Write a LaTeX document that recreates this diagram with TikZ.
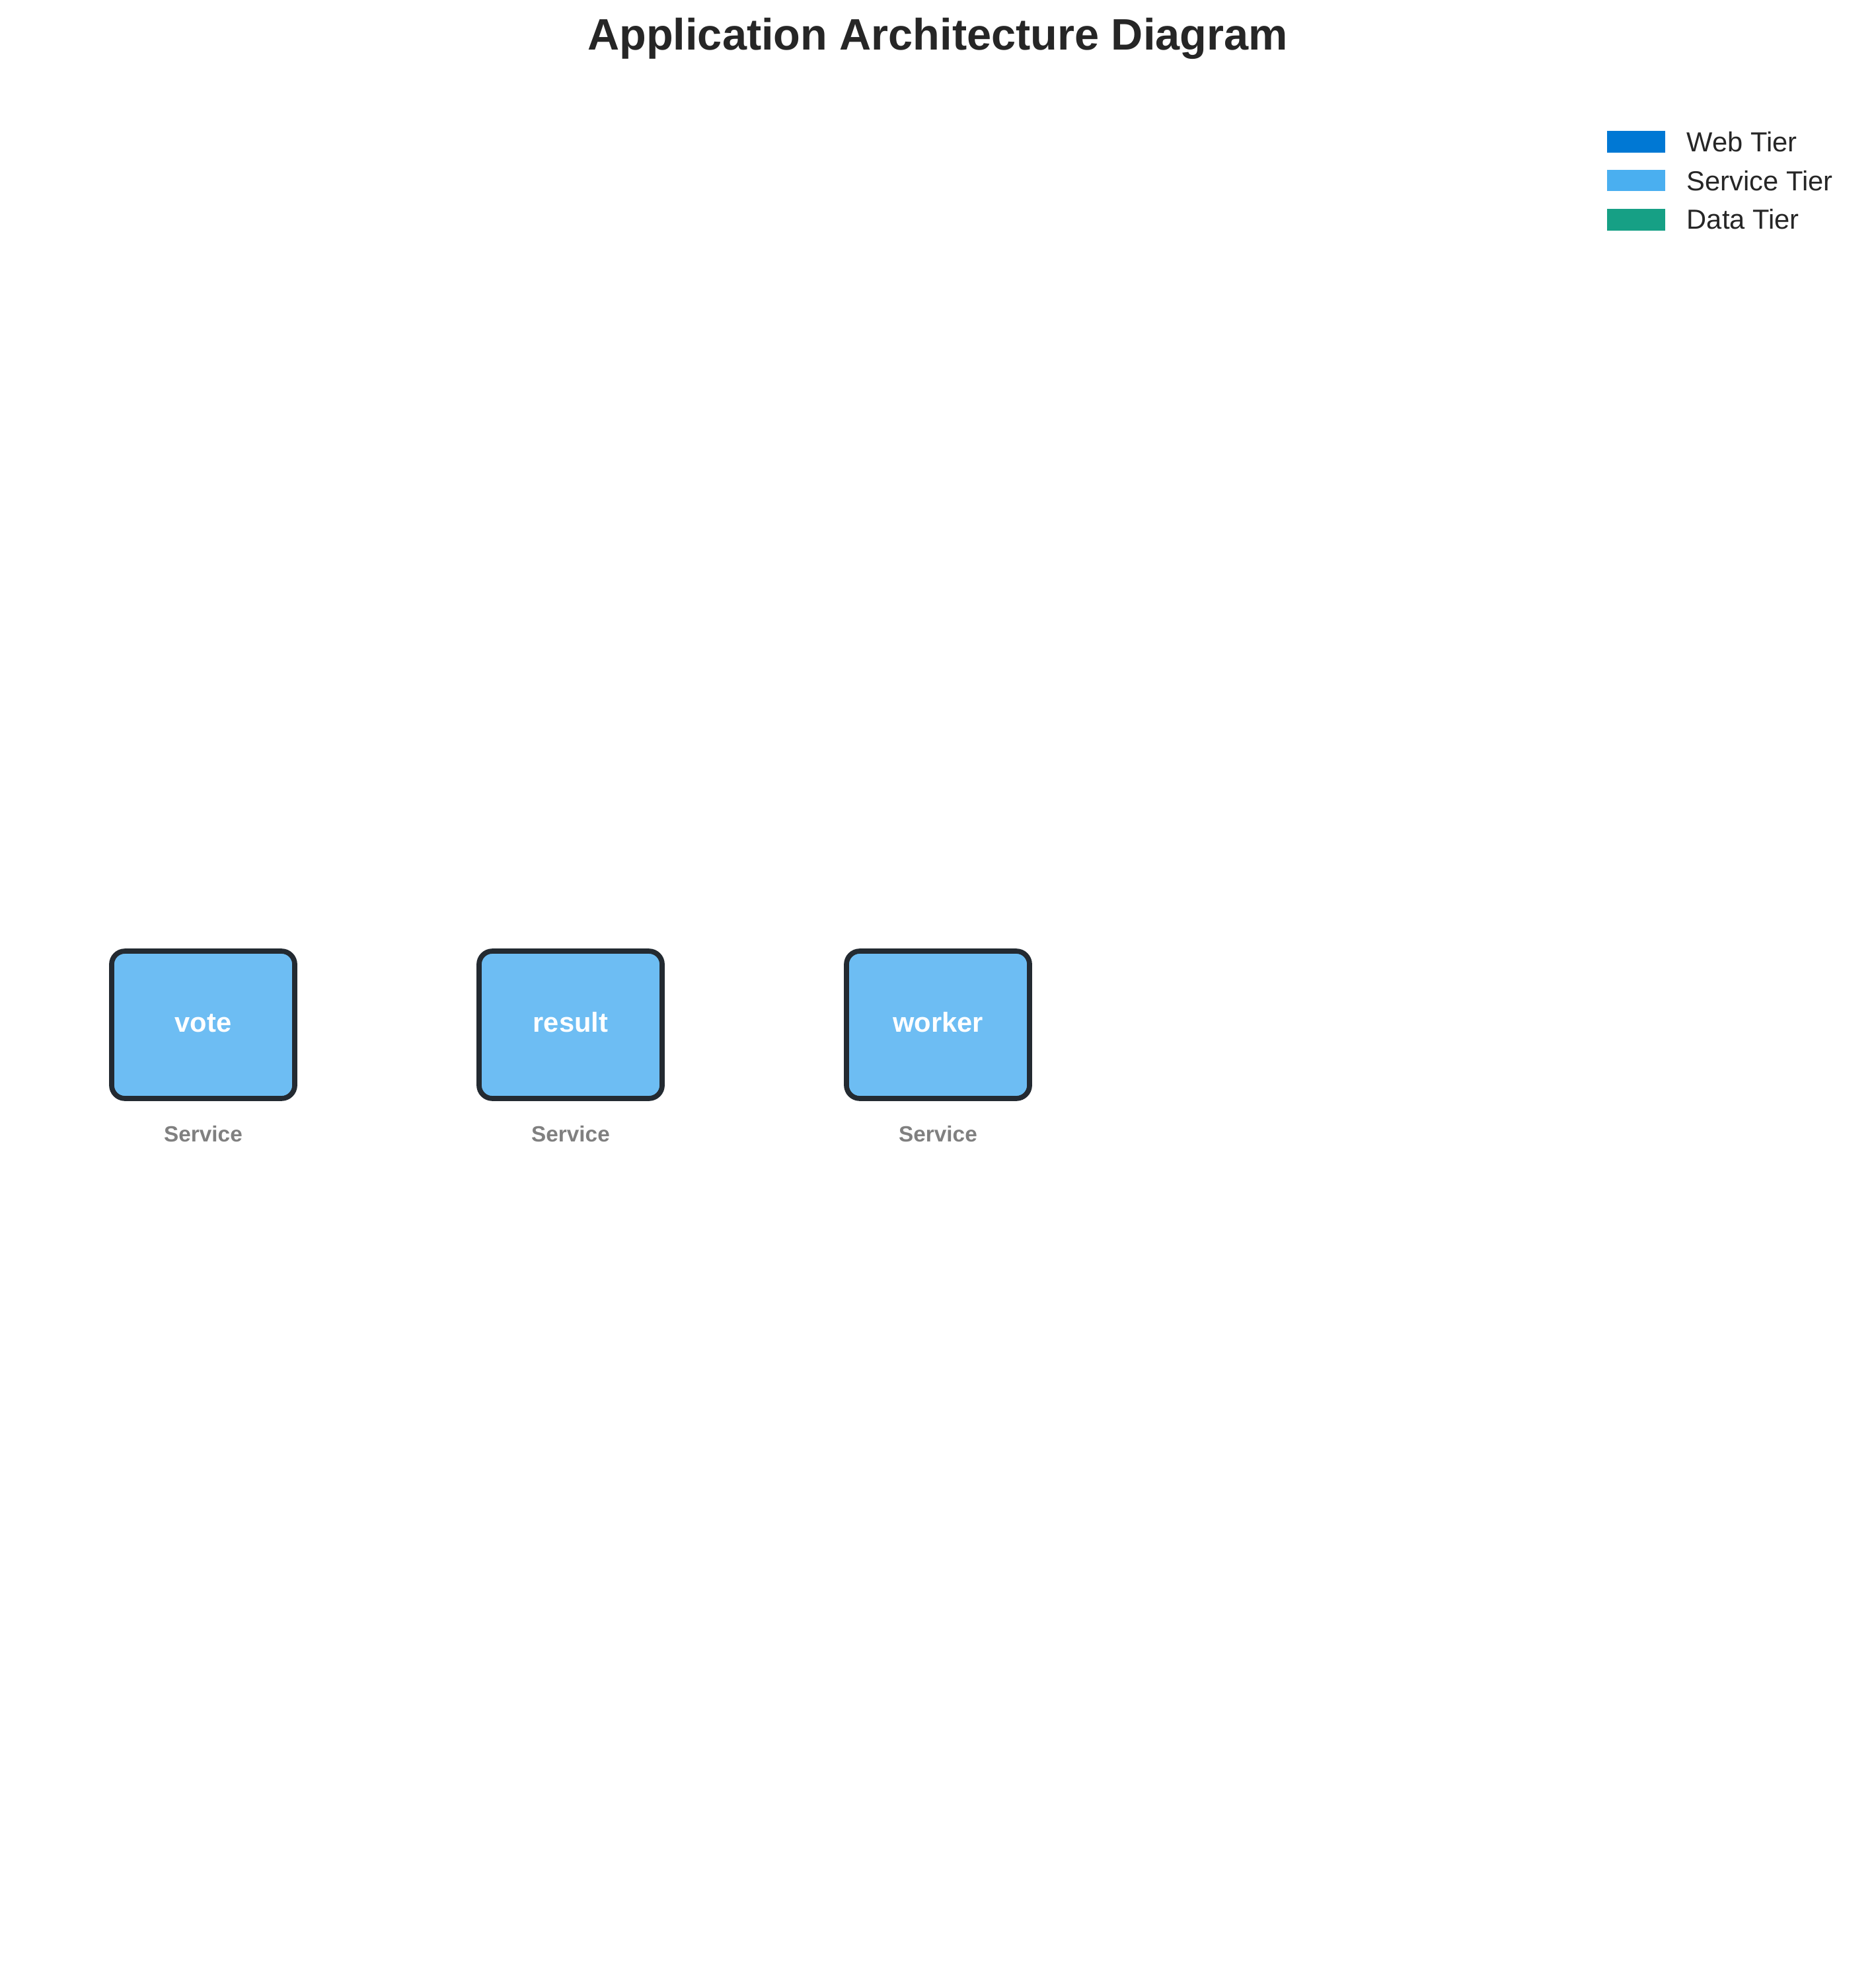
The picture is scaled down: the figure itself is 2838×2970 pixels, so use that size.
\documentclass[tikz,border=0pt]{standalone}
\usepackage{fontspec}
\setmainfont{Liberation Sans}
\definecolor{webtier}{HTML}{0078D4}
\definecolor{svctier}{HTML}{4AAFF0}
\definecolor{datatier}{HTML}{16A085}
\definecolor{boxfill}{HTML}{6DBDF3}
\definecolor{boxedge}{HTML}{232A31}
\definecolor{ink}{HTML}{262626}
\definecolor{sublabel}{HTML}{808080}
\begin{document}
\begin{tikzpicture}[x=0.24pt,y=-0.24pt,
  svcbox/.style={rectangle, rounded corners=4.8pt, draw=boxedge, fill=boxfill, line width=1.85pt,
    minimum width=66.5pt, minimum height=53.5pt, inner sep=0pt, outer sep=0pt, text=white,
    font=\fontsize{10}{12}\selectfont\bfseries, text height=5.19pt, text depth=0pt},
  sublbl/.style={anchor=base, inner sep=0pt, text=sublabel, font=\fontsize{8}{10}\selectfont\bfseries},
  legpatch/.style={rectangle, minimum width=21.1pt, minimum height=7.9pt, inner sep=0pt},
  legtext/.style={anchor=base west, inner sep=0pt, text=ink, font=\fontsize{10}{12}\selectfont}]
\useasboundingbox[fill=white] (0,0) rectangle (2838,2970);
\node[anchor=base, inner sep=0pt, text=ink, font=\fontsize{16}{19}\selectfont\bfseries] (title) at (1419,76) {Application Architecture Diagram};
% legend
\node[legpatch, fill=webtier] (lp1) at (2476,214.3) {};
\node[legpatch, fill=svctier] (lp2) at (2476,273) {};
\node[legpatch, fill=datatier] (lp3) at (2476,332.3) {};
\node[legtext] (lt1) at (2552,230) {Web Tier};
\node[legtext] (lt2) at (2552,288.5) {Service Tier};
\node[legtext] (lt3) at (2552,347) {Data Tier};
% services
\node[svcbox] (vote) at (307.5,1550.5) {vote};
\node[svcbox] (result) at (863.5,1550.5) {result};
\node[svcbox] (worker) at (1419.5,1550.5) {worker};
\node[sublbl] (voteL) at (307.5,1727) {Service};
\node[sublbl] (resultL) at (863.5,1727) {Service};
\node[sublbl] (workerL) at (1419.5,1727) {Service};
\end{tikzpicture}
\end{document}
